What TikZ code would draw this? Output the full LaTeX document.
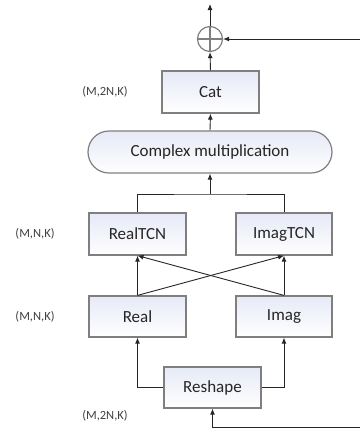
\documentclass[tikz,border=0pt]{standalone}
\usepackage{fontspec}
\setmainfont{Carlito}
\usetikzlibrary{arrows.meta}
\definecolor{boxline}{HTML}{7F7F7F}
\definecolor{boxtop}{HTML}{E6EAF6}
\definecolor{txt}{HTML}{262626}
\definecolor{lbl}{HTML}{404040}
\tikzset{
  blk/.style={draw=boxline, line width=1.2pt, top color=boxtop, bottom color=white,
    minimum width=97pt, minimum height=42pt, inner sep=0pt, text=txt,
    font=\fontsize{17}{20}\selectfont},
  dimlbl/.style={text=lbl, font=\fontsize{12.5}{14}\selectfont, inner sep=0pt},
  conn/.style={draw=black!85, line width=0.9pt},
  arr/.style={conn, -{Latex[length=6pt,width=5pt]}}
}
\begin{document}
\begin{tikzpicture}[x=1pt,y=-1pt]
\useasboundingbox (0,0) rectangle (360,432);
% nodes
\node[draw=boxline, line width=1.2pt, circle, minimum size=25pt, inner sep=0pt] (plus) at (210,39) {};
\coordinate (out) at (210,4);
\coordinate (skipin) at (360,39);
\coordinate (in) at (360,427);
\coordinate (j) at (210,194);
\node[blk] (cat) at (210.5,92) {Cat};
\node[blk, minimum width=244pt, rounded corners=21pt] (cm) at (210,152) {Complex multiplication};
\node[blk] (rtcn) at (137.5,234) {RealTCN};
\node[blk, minimum width=96pt] (itcn) at (284,234) {ImagTCN};
\node[blk, minimum height=41pt] (real) at (137.5,316.5) {Real};
\node[blk, minimum width=96pt, minimum height=41pt] (imag) at (284,316.5) {Imag};
\node[blk, minimum height=41pt] (reshape) at (212.5,387.5) {Reshape};
% labels
\node[dimlbl] (l1) at (105,92) {(M,2N,K)};
\node[dimlbl] (l2) at (35,234) {(M,N,K)};
\node[dimlbl] (l3) at (35,317) {(M,N,K)};
\node[dimlbl] (l4) at (105,416) {(M,2N,K)};
% plus sign
\draw[boxline, line width=1.2pt] (plus.north) -- (plus.south);
\draw[boxline, line width=1.2pt] (plus.west) -- (plus.east);
% connectors
\draw[arr] (plus.north) -- (out);
\draw[arr] (skipin) -- (plus.east);
\draw[arr] (cat.north) -- (plus.south);
\draw[arr] (cm.north) -- (cat.south);
\draw[conn] (rtcn.north) |- (j) -| (itcn.north);
\draw[arr] (j) -- (cm.south);
\draw[arr] (real.north) -- (rtcn.south);
\draw[arr] (imag.north) -- (itcn.south);
\draw[arr] (real.north) -- (itcn.south);
\draw[arr] (imag.north) -- (rtcn.south);
\draw[arr] (reshape.west) -| (real.south);
\draw[arr] (reshape.east) -| (imag.south);
\draw[arr] (in) -| (reshape.south);
\end{tikzpicture}
\end{document}
